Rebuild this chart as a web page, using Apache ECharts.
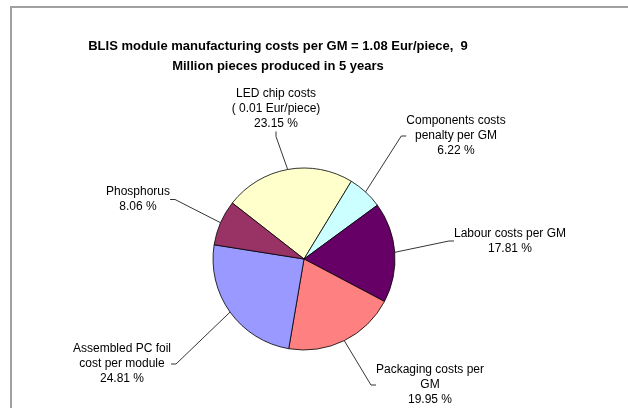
<!DOCTYPE html>
<html>
<head>
<meta charset="utf-8">
<script src="https://cdn.jsdelivr.net/npm/echarts@6/dist/echarts.min.js"></script>
<style>
  html, body { margin: 0; padding: 0; background: #fff; }
  #chart { width: 628px; height: 408px; }
</style>
</head>
<body>
<div id="chart"></div>
<script>
// Cost shares of one BLIS module, in slice order (clockwise)
const categories = [
  'LED chip costs\n( 0.01 Eur/piece)',
  'Components costs\npenalty per GM',
  'Labour costs per GM',
  'Packaging costs per\nGM',
  'Assembled PC foil\ncost per module',
  'Phosphorus'
];
const shares = [23.15, 6.22, 17.81, 19.95, 24.81, 8.06];
const sliceColors = ['#FFFFCC', '#CCFFFF', '#660066', '#FF8080', '#9999FF', '#993366'];
const titleLines = [
  'BLIS module manufacturing costs per GM = 1.08 Eur/piece,  9',
  'Million pieces produced in 5 years'
];

// Where each label block sits (centre of the text block)
const labelSpots = [[276, 109], [456, 136], [510, 241], [430, 385], [122, 364], [138, 199.5]];

const FONT = '"Liberation Sans", Arial, Helvetica, sans-serif';

const chart = echarts.init(document.getElementById('chart'), null, { renderer: 'canvas' });
chart.setOption({
  animation: false,
  graphic: [
    {
      type: 'rect',
      shape: { x: 11, y: 7, width: 700, height: 500 },
      style: { fill: 'none', stroke: '#a0a0a0', lineWidth: 2 },
      silent: true
    },
    {
      type: 'text',
      x: 278,
      y: 56,
      style: {
        text: titleLines.join('\n'),
        font: 'bold 13px ' + FONT,
        align: 'center',
        verticalAlign: 'middle',
        lineHeight: 20,
        fill: '#000'
      },
      silent: true
    }
  ],
  series: [{
    type: 'pie',
    center: [304, 259],
    radius: 91,
    startAngle: 142,
    clockwise: true,
    avoidLabelOverlap: false,
    data: categories.map((name, i) => ({
      name: name,
      value: shares[i],
      itemStyle: { color: sliceColors[i] }
    })),
    itemStyle: { borderColor: '#000', borderWidth: 0.8 },
    label: {
      show: true,
      position: 'outside',
      formatter: '{b}\n{c} %',
      color: '#000',
      fontSize: 12,
      fontFamily: FONT,
      lineHeight: 15,
      align: 'center'
    },
    labelLine: {
      show: true,
      length: 10,
      length2: 5,
      lineStyle: { color: '#000', width: 0.8 }
    },
    labelLayout: function (p) {
      const spot = labelSpots[p.dataIndex];
      return { x: spot[0], y: spot[1], align: 'center', verticalAlign: 'middle' };
    },
    emphasis: { disabled: true }
  }]
});
</script>
</body>
</html>
